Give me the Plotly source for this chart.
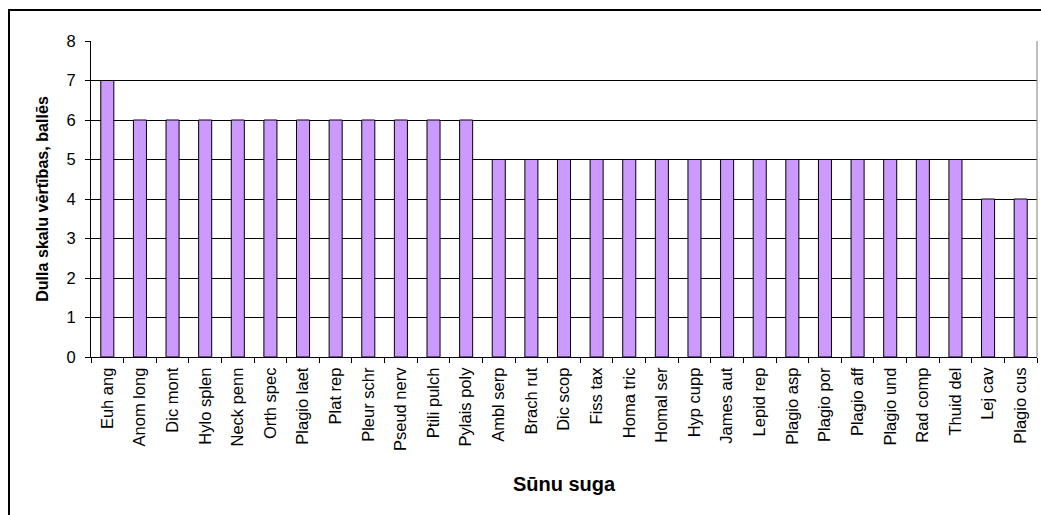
import plotly.graph_objects as go

# Moss species (abbreviated) and their Dulla scale scores
species = [
    "Euh ang", "Anom long", "Dic mont", "Hylo splen", "Neck penn", "Orth spec",
    "Plagio laet", "Plat rep", "Pleur schr", "Pseud nerv", "Ptili pulch",
    "Pylais poly", "Ambl serp", "Brach rut", "Dic scop", "Fiss tax",
    "Homa tric", "Homal ser", "Hyp cupp", "James aut", "Lepid rep",
    "Plagio asp", "Plagio por", "Plagio aff", "Plagio und", "Rad comp",
    "Thuid del", "Lej cav", "Plagio cus",
]
scores = [7, 6, 6, 6, 6, 6, 6, 6, 6, 6, 6, 6,
          5, 5, 5, 5, 5, 5, 5, 5, 5, 5, 5, 5, 5, 5, 5, 4, 4]
y_ticks = [0, 1, 2, 3, 4, 5, 6, 7, 8]

FONT = "Liberation Sans, Arial, sans-serif"

fig = go.Figure(
    go.Bar(
        x=species,
        y=scores,
        marker=dict(color="#CC99FF", line=dict(color="#000000", width=1)),
    )
)

W, H = 1041, 515
L, R, T, B = 91, 4, 41, 158
pw, ph = W - L - R, H - T - B

def px_x(p):
    return (p - L) / pw

def px_y(p):
    return (H - B - p) / ph

fig.update_layout(
    width=W,
    height=H,
    margin=dict(l=L, r=R, t=T, b=B, autoexpand=False),
    paper_bgcolor="white",
    plot_bgcolor="white",
    bargap=0.6,
    showlegend=False,
    font=dict(family=FONT, size=16.5, color="#000000"),
    xaxis=dict(
        type="category",
        tickangle=-90,
        ticks="outside",
        tickson="boundaries",
        ticklen=5,
        tickcolor="#000000",
        ticklabelstandoff=3,
        showline=True,
        linecolor="#000000",
        linewidth=1,
        showgrid=False,
        automargin=False,
        tickfont=dict(size=16.5),
        title=dict(text="<b>Sūnu suga</b>", font=dict(size=20), standoff=26),
    ),
    yaxis=dict(
        range=[0, 8],
        tickvals=y_ticks,
        ticks="outside",
        ticklen=5,
        tickcolor="#000000",
        ticklabelstandoff=6,
        showline=True,
        linecolor="#000000",
        linewidth=1,
        showgrid=True,
        gridcolor="#000000",
        gridwidth=1,
        zeroline=False,
        automargin=False,
        tickfont=dict(size=16.5),
        title=dict(text="<b>Dulla skalu vērtības, ballēs</b>", font=dict(size=16.1), standoff=13),
    ),
    shapes=[
        # plot-area frame on the right
        dict(type="line", xref="paper", yref="paper", x0=1, x1=1, y0=0, y1=1,
             line=dict(color="#808080", width=1)),
        # outer chart border
        dict(type="rect", xref="paper", yref="paper",
             x0=px_x(9), x1=px_x(1050), y0=px_y(530), y1=px_y(10),
             line=dict(color="#000000", width=2)),
    ],
)

fig.write_html("out.html")
